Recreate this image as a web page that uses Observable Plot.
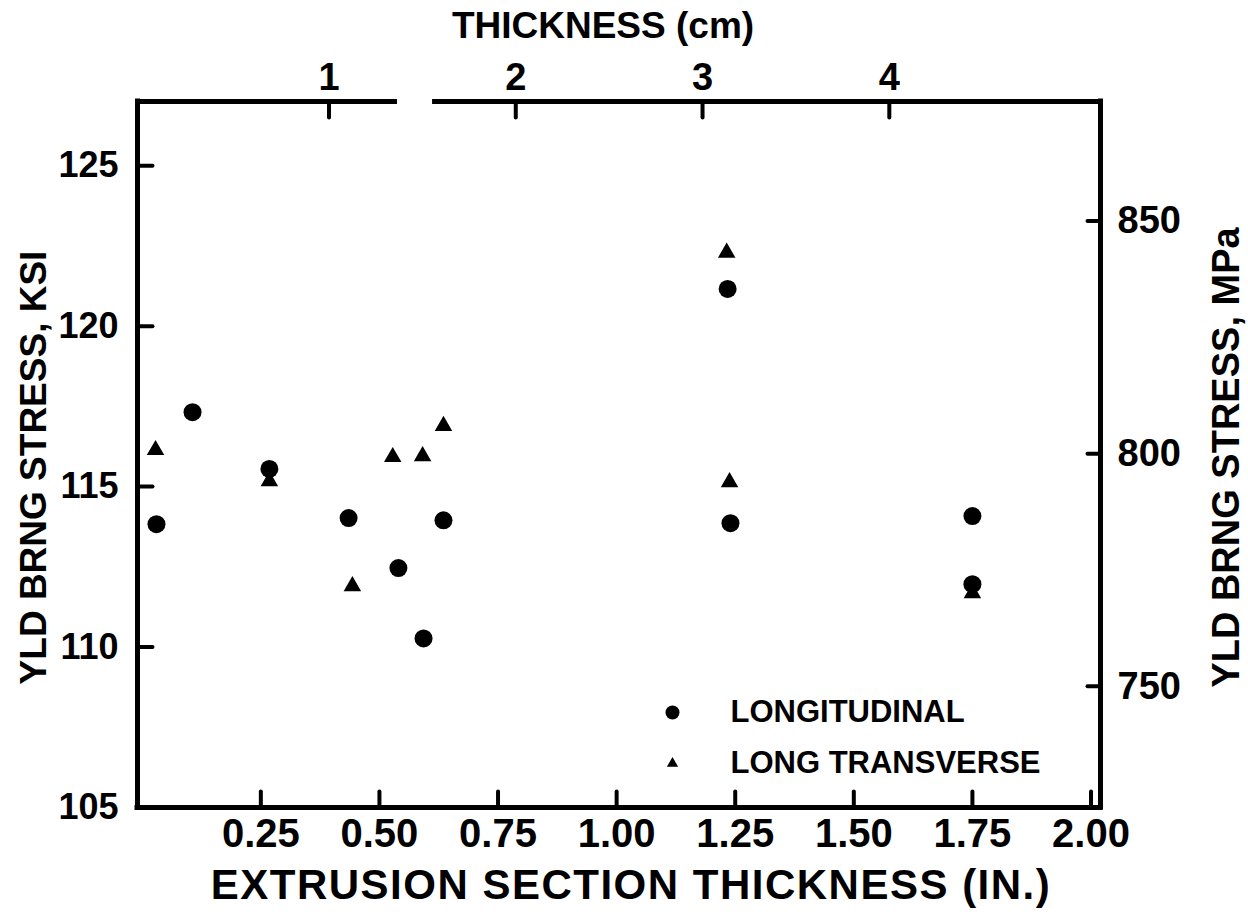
<!DOCTYPE html>
<html>
<head>
<meta charset="utf-8">
<script src="https://cdn.jsdelivr.net/npm/d3@7"></script>
<script src="https://cdn.jsdelivr.net/npm/@observablehq/plot@0.6"></script>
<style>
  html, body { margin: 0; padding: 0; background: #fff; }
  #chart svg { display: block; }
</style>
</head>
<body>
<div id="chart"></div>
<script>
// ---- data ----
const seriesNames = ["LONGITUDINAL", "LONG TRANSVERSE"];

// Longitudinal (filled circles): thickness in inches, yield bearing stress in ksi
const longThickness = [0.030, 0.106, 0.268, 0.435, 0.540, 0.593, 0.635, 1.234, 1.240, 1.750, 1.750];
const longStress    = [113.83, 117.32, 115.55, 114.02, 112.46, 110.27, 113.95, 121.16, 113.86, 114.08, 111.96];

// Long transverse (filled triangles)
const transThickness = [0.028, 0.268, 0.443, 0.528, 0.591, 0.635, 1.232, 1.238, 1.750];
const transStress    = [116.14, 115.17, 111.90, 115.92, 115.95, 116.89, 122.29, 115.14, 111.68];

// axes
const xTicksIn  = [0.25, 0.50, 0.75, 1.00, 1.25, 1.50, 1.75, 2.00];
const yTicksKsi = [105, 110, 115, 120, 125];
const yTicksMPa = [750, 800, 850];
const xTicksCm  = [1, 2, 3, 4];
const xDomain = [-0.01, 2.02];
const yDomain = [105, 127];
const topAxisGap = [0.538, 0.612];   // break in the top (cm) axis line, inches

const xTitle = "EXTRUSION SECTION THICKNESS (IN.)";
const topTitle = "THICKNESS (cm)";
const yTitleLeft = "YLD BRNG STRESS, KSI";
const yTitleRight = "YLD BRNG STRESS, MPa";

const MPA_PER_KSI = 6.895;
const CM_PER_IN = 2.54;

// ---- build tables ----
const longData  = longThickness.map((x, i) => ({x, y: longStress[i]}));
const transData = transThickness.map((x, i) => ({x, y: transStress[i]}));
const topSegments = [[xDomain[0], topAxisGap[0]], [topAxisGap[1], xDomain[1]]];

const tickShape = { draw(ctx, l) { ctx.moveTo(0, 0); ctx.lineTo(0, -l); } };
const ink = "#000";
const font = "'Liberation Sans', Arial, Helvetica, sans-serif";

const chart = Plot.plot({
  width: 1248,
  height: 914,
  marginLeft: 137,
  marginRight: 148,
  marginTop: 101,
  marginBottom: 107,
  x: { domain: xDomain, axis: null },
  y: { domain: yDomain, axis: null },
  style: { fontFamily: font, fontSize: "40px", fontWeight: "bold", color: ink, background: "#fff", overflow: "visible" },
  marks: [
    // frame
    Plot.ruleX(xDomain, { stroke: ink, strokeWidth: 5, strokeLinecap: "square" }),
    Plot.ruleY([yDomain[0]], { stroke: ink, strokeWidth: 5, strokeLinecap: "square" }),
    Plot.ruleY(topSegments, { y: () => yDomain[1], x1: d => d[0], x2: d => d[1], stroke: ink, strokeWidth: 5 }),

    // inward ticks
    Plot.vector(xTicksIn, { x: d => d, frameAnchor: "bottom", anchor: "start", rotate: 0, length: 16, shape: tickShape, stroke: ink, strokeWidth: 4 }),
    Plot.vector(yTicksKsi.slice(1), { y: d => d, frameAnchor: "left", anchor: "start", rotate: 90, length: 15, shape: tickShape, stroke: ink, strokeWidth: 4 }),
    Plot.vector(yTicksMPa.map(m => m / MPA_PER_KSI), { y: d => d, frameAnchor: "right", anchor: "start", rotate: -90, length: 13, shape: tickShape, stroke: ink, strokeWidth: 4 }),
    Plot.vector(xTicksCm.map(c => c / CM_PER_IN), { x: d => d, frameAnchor: "top", anchor: "start", rotate: 180, length: 16, shape: tickShape, stroke: ink, strokeWidth: 4 }),

    // tick labels
    Plot.axisX(xTicksIn, { anchor: "bottom", tickSize: 0, tickPadding: 11, tickFormat: d => d.toFixed(2), label: null, fill: ink }),
    Plot.axisY(yTicksKsi, { anchor: "left", tickSize: 0, tickPadding: 19, tickFormat: d => String(d), label: null, fill: ink, fontSize: 36 }),
    Plot.axisY(yTicksMPa.map(m => m / MPA_PER_KSI), { anchor: "right", tickSize: 0, tickPadding: 17, tickFormat: d => String(Math.round(d * MPA_PER_KSI)), label: null, fill: ink, fontSize: 38 }),
    Plot.axisX(xTicksCm.map(c => c / CM_PER_IN), { anchor: "top", tickSize: 0, tickPadding: 12, tickFormat: d => String(Math.round(d * CM_PER_IN)), label: null, fill: ink, fontSize: 38 }),

    // axis titles
    Plot.text([xTitle], { text: d => d, frameAnchor: "bottom", textAnchor: "middle", lineAnchor: "middle", dx: 12, dy: 78, fontSize: 42, fill: ink }),
    Plot.text([topTitle], { text: d => d, frameAnchor: "top", textAnchor: "middle", lineAnchor: "middle", dx: -16, dy: -75, fontSize: 37, fill: ink }),
    Plot.text([yTitleLeft], { text: d => d, frameAnchor: "left", textAnchor: "middle", lineAnchor: "middle", dx: -103, dy: 13, rotate: -90, fontSize: 37, fill: ink }),
    Plot.text([yTitleRight], { text: d => d, frameAnchor: "right", textAnchor: "middle", lineAnchor: "middle", dx: 126, dy: 3, rotate: -90, fontSize: 38, fill: ink }),

    // data
    Plot.dot(transData, { x: "x", y: "y", r: 6.5, symbol: "triangle", fill: ink }),
    Plot.dot(longData, { x: "x", y: "y", r: 9, symbol: "circle", fill: ink }),

    // legend
    Plot.dot([seriesNames[0]], { frameAnchor: "bottom-right", dx: -428, dy: -95, r: 7, symbol: "circle", fill: ink }),
    Plot.dot([seriesNames[1]], { frameAnchor: "bottom-right", dx: -428, dy: -44, r: 4.2, symbol: "triangle", fill: ink }),
    Plot.text([seriesNames[0]], { text: d => d, frameAnchor: "bottom-right", dx: -370, dy: -95, textAnchor: "start", lineAnchor: "middle", fontSize: 31, fill: ink }),
    Plot.text([seriesNames[1]], { text: d => d, frameAnchor: "bottom-right", dx: -370, dy: -44, textAnchor: "start", lineAnchor: "middle", fontSize: 31, fill: ink })
  ]
});

// lettering of the bottom title is slightly spaced out in the original
d3.select(chart).selectAll("text")
  .filter(function () { return this.textContent === xTitle; })
  .attr("letter-spacing", "1.5px");

document.getElementById("chart").appendChild(chart);
</script>
</body>
</html>
